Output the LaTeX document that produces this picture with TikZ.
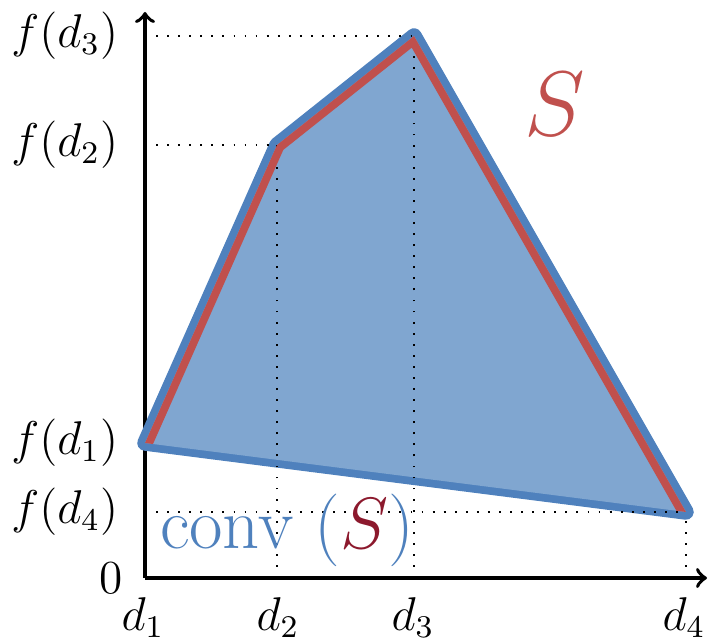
\documentclass[tikz,border=0pt]{standalone}
\usetikzlibrary{positioning,arrows}

\definecolor{hullblue}{RGB}{79,129,189}
\definecolor{hullfill}{RGB}{128,166,208}
\definecolor{graphred}{RGB}{192,80,77}
\definecolor{darkred}{RGB}{140,25,45}

\begin{document}
\begin{tikzpicture}[x=0.953cm, y=0.953cm,
	axis/.style = {line width=1pt, ->, >=to},
	guide/.style = {line width=0.5pt, dash pattern=on 0.5pt off 2.5pt},
	lbl/.style = {inner sep=0pt, font=\large, scale=1.07, transform shape}]
	\useasboundingbox (-1.45,-0.64) rectangle (5.65,5.78);

	\coordinate (O) at (0,0);
	\coordinate (X) at (5.62,0);
	\coordinate (Y) at (0,5.66);
	\coordinate (P1) at (0,1.35);
	\coordinate (P2) at (1.32,4.33);
	\coordinate (P3) at (2.69,5.42);
	\coordinate (P4) at (5.41,0.66);

	% Axes
	\draw[axis] (O) -- (X);
	\draw[axis] (O) -- (Y);

	% Hull
	\draw[hullblue, line width=4.2pt, line join=round] (P1) -- (P2) -- (P3) -- (P4) -- cycle;
	\fill[hullfill] (P1) -- (P2) -- (P3) -- (P4) -- cycle;

	% Guides
	\draw[guide] (O |- P2) -- (P2);
	\draw[guide] (O |- P3) -- (P3);
	\draw[guide] (O |- P4) -- (P4);
	\draw[guide] (P2 |- O) -- (P2);
	\draw[guide] (P3 |- O) -- (P3);
	\draw[guide] (P4 |- O) -- (P4);

	% Graph
	\begin{scope}
		\clip (P1) -- (P2) -- (P3) -- (P4) -- cycle;
		\draw[graphred, line width=4.2pt, line join=round] (P1) -- (P2) -- (P3) -- (P4);
	\end{scope}

	% Labels
	\node[lbl, anchor=east] (f1) at (-0.26,1.35) {$f(d_1)$};
	\node[lbl, anchor=east] (f2) at (-0.26,4.33) {$f(d_2)$};
	\node[lbl, anchor=east] (f3) at (-0.26,5.42) {$f(d_3)$};
	\node[lbl, anchor=east] (f4) at (-0.26,0.66) {$f(d_4)$};
	\node[lbl, anchor=east] (zero) at (-0.22,0) {$0$};
	\node[lbl, anchor=north] (d1) at (-0.02,-0.19) {$d_1$};
	\node[lbl, anchor=north] (d2) at (1.33,-0.19) {$d_2$};
	\node[lbl, anchor=north] (d3) at (2.68,-0.19) {$d_3$};
	\node[lbl, anchor=north] (d4) at (5.39,-0.19) {$d_4$};

	\node[font=\huge, text=hullblue, scale=0.95, transform shape] (conv) at (1.42,0.48) {$\mathrm{conv}\;(\textcolor{darkred}{S})$};
	\node[font=\Huge, text=graphred] (S) at (4.10,4.74) {$S$};
\end{tikzpicture}
\end{document}
